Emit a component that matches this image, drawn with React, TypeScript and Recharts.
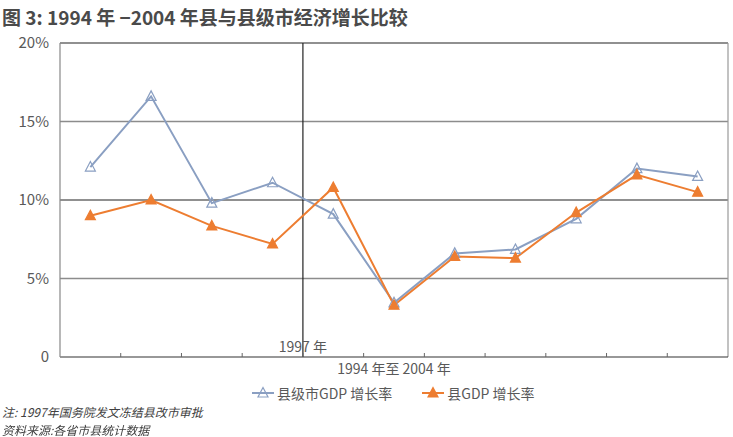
import { Legend, Line, LineChart, ReferenceLine, XAxis, YAxis } from "recharts";

const FONT = '"Noto Sans CJK SC", "Noto Sans", sans-serif';
const TEXT = "#595959";
const BLUE = "#8A9FC2";
const ORANGE = "#ED7D31";

const years = [1994, 1995, 1996, 1997, 1998, 1999, 2000, 2001, 2002, 2003, 2004];
const cityGdp = [12.1, 16.6, 9.8, 11.1, 9.1, 3.45, 6.6, 6.85, 8.8, 12.0, 11.5];
const countyGdp = [9.0, 10.0, 8.35, 7.2, 10.8, 3.3, 6.4, 6.3, 9.2, 11.6, 10.5];
const yTicks = [0, 5, 10, 15, 20];
const yearBounds = [1994.5, 1995.5, 1996.5, 1997.5, 1998.5, 1999.5, 2000.5, 2001.5, 2002.5, 2003.5];

const data = years.map((year, i) => ({ year, city: cityGdp[i], county: countyGdp[i] }));

function Triangle({ cx, cy, filled, color }: any) {
  if (cx == null || cy == null) return null;
  return (
    <path
      d={`M${cx},${cy - 5.5} L${cx + 5},${cy + 4} L${cx - 5},${cy + 4} Z`}
      fill={filled ? color : "none"}
      stroke={color}
      strokeWidth={1.2}
    />
  );
}

function TickMark({ x, y }: any) {
  return <line x1={x} x2={x} y1={y - 4} y2={y} stroke="#666" strokeWidth={1} />;
}

function LegendBox() {
  const item = (label: string, color: string, filled: boolean, ml: number) => (
    <div style={{ display: "flex", alignItems: "center", marginLeft: ml }}>
      <svg width={22} height={20}>
        <line x1={0} x2={22} y1={10} y2={10} stroke={color} strokeWidth={2} />
        <Triangle cx={11} cy={10} filled={filled} color={color} />
      </svg>
      <span style={{ marginLeft: 3, fontSize: 14, color: TEXT, fontFamily: FONT, whiteSpace: "nowrap" }}>{label}</span>
    </div>
  );
  return (
    <div style={{ display: "flex", height: 20, alignItems: "center", width: 733 }}>
      {item("县级市GDP 增长率", BLUE, false, 252)}
      {item("县GDP 增长率", ORANGE, true, 30)}
    </div>
  );
}

const noteStyle = {
  position: "absolute" as const,
  left: 2,
  fontFamily: FONT,
  fontStyle: "italic",
  fontSize: 12,
  color: "#404040",
  whiteSpace: "nowrap" as const,
};

export default function App() {
  return (
    <div style={{ position: "fixed", top: 0, left: 0, width: 733, height: 437, background: "#fff" }}>
      <div
        style={{
          position: "absolute",
          left: 2,
          top: 3,
          fontFamily: FONT,
          fontWeight: 700,
          fontSize: 19,
          color: "#4a4a4a",
          whiteSpace: "nowrap",
        }}
      >
        图 3: 1994 年 −2004 年县与县级市经济增长比较
      </div>
      <LineChart width={733} height={437} data={data} margin={{ top: 43, right: 5, bottom: 34, left: 0 }}>
        <ReferenceLine y={20} stroke="#222" strokeWidth={1.2} />
        <ReferenceLine y={15} stroke="#8c8c8c" strokeWidth={1.6} />
        <ReferenceLine y={10} stroke="#222" strokeWidth={1.2} />
        <ReferenceLine y={5} stroke="#8c8c8c" strokeWidth={1.6} />
        <ReferenceLine x={2004.5} stroke="#999" strokeWidth={1.2} />
        <ReferenceLine
          x={1997.5}
          stroke="#222"
          strokeWidth={1.2}
          label={{ value: "1997 年", position: "insideBottom", offset: 5, fill: TEXT, fontSize: 14, fontFamily: FONT }}
        />
        <XAxis
          dataKey="year"
          type="number"
          domain={[1993.5, 2004.5]}
          ticks={yearBounds}
          interval={0}
          height={26}
          tickLine={false}
          tickSize={0}
          tickMargin={0}
          tick={<TickMark />}
          axisLine={{ stroke: "#333", strokeWidth: 1.2 }}
          label={{ value: "1994 年至 2004 年", position: "insideTop", offset: 7, fill: TEXT, fontSize: 14, fontFamily: FONT }}
        />
        <YAxis
          width={60}
          domain={[0, 20]}
          ticks={yTicks}
          interval={0}
          tickLine={false}
          tickSize={0}
          tickMargin={11}
          axisLine={{ stroke: "#888", strokeWidth: 1.2 }}
          tickFormatter={(v: number) => (v === 0 ? "0" : `${v}%`)}
          tick={{ fill: TEXT, fontSize: 15, fontFamily: FONT }}
        />
        <Legend verticalAlign="bottom" content={<LegendBox />} wrapperStyle={{ left: 0, width: 733, height: 20 }} />
        <Line
          dataKey="city"
          name="县级市GDP增长率"
          stroke={BLUE}
          strokeWidth={2}
          isAnimationActive={false}
          dot={(p: any) => <Triangle key={p.index} cx={p.cx} cy={p.cy} color={BLUE} filled={false} />}
        />
        <Line
          dataKey="county"
          name="县GDP增长率"
          stroke={ORANGE}
          strokeWidth={2}
          isAnimationActive={false}
          dot={(p: any) => <Triangle key={p.index} cx={p.cx} cy={p.cy} color={ORANGE} filled />}
        />
      </LineChart>
      <div style={{ ...noteStyle, top: 403 }}>注: 1997年国务院发文冻结县改市审批</div>
      <div style={{ ...noteStyle, top: 421 }}>资料来源:各省市县统计数据</div>
    </div>
  );
}
